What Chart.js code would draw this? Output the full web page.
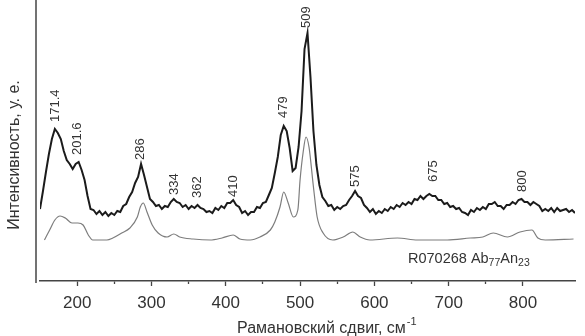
<!DOCTYPE html>
<html>
<head>
<meta charset="utf-8">
<script src="https://cdn.jsdelivr.net/npm/chart.js@4.4.1/dist/chart.umd.min.js"></script>
<style>
  body { margin: 0; background: #fff; }
</style>
</head>
<body>
<canvas id="ramanChart" width="585" height="336"></canvas>
<script>
// Measured spectrum (black, noisy)
const measuredX = [150,154,158,162,166,170,174,178,182,186,190,194,198,202,206,210,214,218,222,226,230,234,238,242,246,250,254,258,262,266,270,274,278,282,286,290,294,298,302,306,310,314,318,322,326,330,334,338,342,346,350,354,358,362,366,370,374,378,382,386,390,394,398,402,406,410,414,418,422,426,430,434,438,442,446,450,454,458,462,466,470,474,478,482,486,490,494,498,502,506,510,514,518,522,526,530,534,538,542,546,550,554,558,562,566,570,574,578,582,586,590,594,598,602,606,610,614,618,622,626,630,634,638,642,646,650,654,658,662,666,670,674,678,682,686,690,694,698,702,706,710,714,718,722,726,730,734,738,742,746,750,754,758,762,766,770,774,778,782,786,790,794,798,802,806,810,814,818,822,826,830,834,838,842,846,850,854,858,862,866,870];
const measuredY = [72,90,109,127,142,152,148,142,130,121,117,112,117,119,111,101,85,72,71,67,70,66,69,65,68,66,70,69,75,77,84,89,98,104,117,106,94,82,79,75,76,72,75,74,79,82,79,78,74,76,72,75,73,76,73,72,69,70,68,73,71,75,73,78,78,81,76,74,68,70,66,69,69,74,73,78,79,86,93,108,124,146,155,150,133,110,113,134,170,232,248,204,150,116,96,84,80,75,76,71,74,72,75,76,81,85,90,85,83,76,73,69,72,67,70,68,72,70,74,72,76,74,78,76,79,77,82,81,85,82,85,87,85,85,81,81,77,78,74,75,72,73,69,68,66,71,69,73,71,74,72,77,77,79,75,75,72,76,76,79,77,81,82,79,79,76,79,77,75,70,72,70,73,69,73,70,71,72,69,71,68];

// Reference spectrum R070268 (grey, smooth)
const referenceX = [156,163,170,177,184,193,201,208,215,221,240,248,260,271,281,285,289,294,301,309,321,330,338,356,379,395,410,419,433,446,460,466,473,478,484,491,497,500,504,508,512,518,523,531,544,558,571,581,594,631,658,698,729,746,760,779,796,812,820,830,868];
const referenceY = [41,51,61,65,63,58,58,56,46,41,41,43,48,53,64,74,78,69,56,48,44,47,44,42,41,43,46,42,41,44,51,59,74,89,78,64,71,101,128,144,134,94,64,48,41,44,49,44,41,43,41,41,43,44,48,44,49,51,43,41,42];

// Peak annotations: text, position (wavenumber) and where the text starts (intensity)
const peakLabels = ["171.4","201.6","286","334","362","410","479","509","575","675","800"];
const peakLabelX = [170.5,201,284.5,330.5,362.5,410,477,508,574,679,799];
const peakLabelY = [159,126,121,86,83,84,163,253,94,99,89];

const xTickStep = 50;

const textColor = "#333";
const fontFamily = "'Liberation Sans', Arial, sans-serif";

// draws y-axis line, axis titles, sample note and peak labels
const annotations = {
  id: "annotations",
  afterDraw(chart) {
    const { ctx, chartArea, scales } = chart;
    const x = scales.x;
    const y = scales.y;
    ctx.save();

    // y axis line (slightly left of the x axis start, as in the figure)
    ctx.strokeStyle = "#444";
    ctx.lineWidth = 1.5;
    ctx.beginPath();
    ctx.moveTo(chartArea.left - 4, chartArea.top - 2);
    ctx.lineTo(chartArea.left - 4, chartArea.bottom + 2);
    ctx.stroke();

    ctx.fillStyle = textColor;

    // peak labels, rotated
    ctx.font = "13px " + fontFamily;
    ctx.textAlign = "left";
    ctx.textBaseline = "middle";
    peakLabels.forEach((t, i) => {
      const px = x.getPixelForValue(peakLabelX[i]);
      const py = y.getPixelForValue(peakLabelY[i]);
      ctx.save();
      ctx.translate(px, py);
      ctx.rotate(-Math.PI / 2);
      ctx.fillText(t, 0, 0);
      ctx.restore();
    });

    // y title
    ctx.save();
    ctx.font = "16px " + fontFamily;
    ctx.textAlign = "center";
    ctx.translate(15, 155);
    ctx.rotate(-Math.PI / 2);
    ctx.fillText("Интенсивность, у. е.", 0, 0);
    ctx.restore();

    // x title with superscript
    ctx.textBaseline = "alphabetic";
    ctx.font = "16px " + fontFamily;
    let tx = 237;
    const main = "Рамановский сдвиг, см";
    ctx.fillText(main, tx, 333);
    tx += ctx.measureText(main).width + 1;
    ctx.font = "11px " + fontFamily;
    ctx.fillText("-1", tx, 325);

    // sample note with subscripts
    const parts = [["R070268 Ab", false], ["77", true], ["An", false], ["23", true]];
    let nx = 408;
    parts.forEach(([s, sub]) => {
      ctx.font = (sub ? "10.5px " : "14.5px ") + fontFamily;
      ctx.fillText(s, nx, sub ? 266 : 263);
      nx += ctx.measureText(s).width;
    });

    ctx.restore();
  },
};

new Chart(document.getElementById("ramanChart"), {
  type: "line",
  data: {
    datasets: [
      {
        label: "образец",
        data: measuredX.map((v, i) => ({ x: v, y: measuredY[i] })),
        borderColor: "#1b1b1b",
        borderWidth: 2,
        pointRadius: 0,
        tension: 0,
        fill: false,
      },
      {
        label: "R070268",
        data: referenceX.map((v, i) => ({ x: v, y: referenceY[i] })),
        borderColor: "#7d7d7d",
        borderWidth: 1.2,
        pointRadius: 0,
        cubicInterpolationMode: "monotone",
        fill: false,
      },
    ],
  },
  options: {
    responsive: false,
    animation: false,
    layout: { padding: { left: 40, right: 10, top: 2, bottom: 0 } },
    plugins: {
      legend: { display: false },
      tooltip: { enabled: false },
    },
    scales: {
      x: {
        type: "linear",
        min: 150,
        max: 870,
        afterFit: (scale) => {
          scale.height = 55;
        },
        afterBuildTicks: (scale) => {
          scale.ticks = scale.ticks.filter(
            (t) => t.value >= 200 && t.value <= 850 && t.value % xTickStep === 0
          );
        },
        ticks: {
          stepSize: xTickStep,
          autoSkip: false,
          maxRotation: 0,
          padding: 7,
          color: textColor,
          font: { size: 17, family: fontFamily },
          callback: (v) => (v % 100 === 0 ? v : ""),
        },
        grid: {
          drawOnChartArea: false,
          tickLength: 5,
          tickColor: "#444",
          tickWidth: 1.3,
          tickBorderDash: (ctx) => (ctx.tick && ctx.tick.value % 100 !== 0 ? [2.5, 20] : []),
        },
        border: { display: true, color: "#444", width: 1.5 },
      },
      y: {
        display: false,
        min: 0,
        max: 279,
      },
    },
  },
  plugins: [annotations],
});
</script>
</body>
</html>
